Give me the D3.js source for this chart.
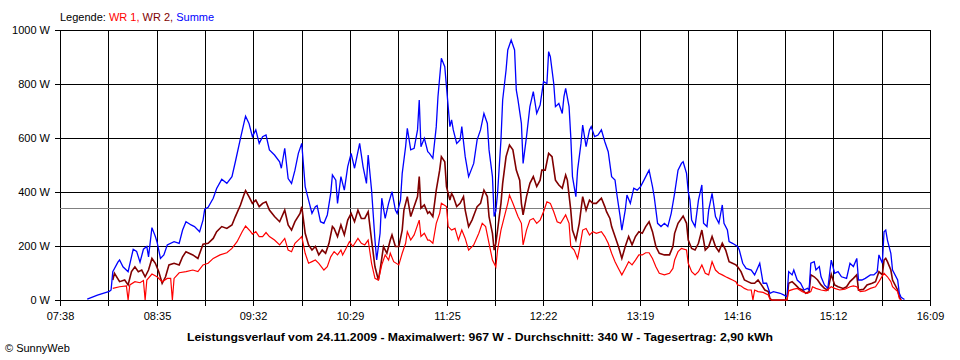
<!DOCTYPE html>
<html><head><meta charset="utf-8">
<script src="https://cdn.jsdelivr.net/npm/d3@7"></script>
<style>
body{margin:0;background:#fff}
svg{display:block}
text{font-family:"Liberation Sans",Arial,sans-serif;font-size:11px;fill:#000}
</style>
</head><body>
<svg id="chart" width="960" height="360"></svg>
<script>
// ---------- data ----------
const summeTimes = ["07:54","08:00","08:07","08:08","08:09","08:12","08:13","08:15","08:18","08:21","08:23","08:25","08:27","08:29","08:30","08:32","08:34","08:35","08:37","08:39","08:41","08:45","08:48","08:50","08:52","08:55","08:57","09:00","09:02","09:03","09:05","09:08","09:10","09:13","09:16","09:19","09:21","09:24","09:26","09:27","09:29","09:31","09:33","09:35","09:37","09:39","09:41","09:44","09:47","09:48","09:50","09:52","09:54","09:56","09:58","10:00","10:02","10:04","10:06","10:08","10:09","10:11","10:13","10:15","10:17","10:18","10:20","10:21","10:23","10:25","10:27","10:29","10:31","10:32","10:34","10:36","10:38","10:39","10:41","10:43","10:44","10:46","10:47","10:49","10:51","10:53","10:55","10:56","10:58","10:59","11:01","11:02","11:04","11:06","11:08","11:09","11:10","11:12","11:14","11:15","11:17","11:19","11:20","11:22","11:24","11:25","11:26","11:27","11:28","11:29","11:31","11:33","11:34","11:36","11:38","11:41","11:43","11:45","11:47","11:49","11:50","11:52","11:53","11:54","11:55","11:57","11:58","12:00","12:01","12:03","12:05","12:06","12:07","12:09","12:10","12:12","12:14","12:16","12:18","12:20","12:21","12:22","12:24","12:25","12:26","12:28","12:29","12:31","12:33","12:34","12:35","12:37","12:38","12:39","12:41","12:42","12:44","12:45","12:47","12:49","12:50","12:52","12:54","12:56","12:58","13:00","13:02","13:04","13:05","13:07","13:08","13:10","13:11","13:13","13:15","13:17","13:19","13:21","13:23","13:24","13:26","13:27","13:29","13:31","13:33","13:35","13:37","13:39","13:41","13:43","13:44","13:46","13:47","13:48","13:49","13:51","13:53","13:55","13:56","13:58","13:59","14:01","14:03","14:05","14:07","14:08","14:10","14:11","14:13","14:16","14:17","14:19","14:21","14:24","14:26","14:29","14:31","14:33","14:35","14:37","14:41","14:43","14:45","14:46","14:48","14:49","14:51","14:53","14:55","14:57","14:58","14:59","15:01","15:02","15:04","15:05","15:07","15:09","15:11","15:13","15:15","15:17","15:20","15:22","15:24","15:26","15:27","15:29","15:31","15:34","15:36","15:38","15:39","15:41","15:42","15:43","15:44","15:46","15:47","15:50","15:51","15:52","15:54"];
const summeValues = [3,18,32,37,105,140,148,123,105,188,180,140,188,198,160,268,235,215,154,167,204,216,210,259,290,278,272,253,296,336,343,377,413,447,432,457,512,599,654,681,654,605,630,580,605,611,556,537,512,488,562,450,432,481,543,580,420,370,321,346,350,290,284,315,395,463,444,358,457,407,494,543,488,519,580,494,432,537,407,222,148,247,377,302,358,401,333,321,370,469,568,636,556,562,630,741,568,599,549,543,525,642,753,895,864,790,716,642,667,630,580,593,642,531,457,506,593,630,691,654,556,457,309,330,395,593,741,852,926,963,926,778,741,654,506,605,716,772,691,722,765,809,802,920,901,802,716,728,691,753,784,716,605,457,383,481,580,648,568,630,642,605,611,630,586,549,457,444,395,309,259,333,389,358,414,407,420,444,469,481,420,383,284,272,284,272,321,395,481,506,512,469,401,370,296,272,370,426,284,272,333,395,309,284,352,284,259,216,210,198,185,136,117,111,93,136,62,62,25,31,25,19,12,105,93,111,74,62,37,43,37,136,142,111,124,86,56,43,148,99,105,86,80,136,124,154,74,74,80,93,93,105,167,136,253,259,222,173,111,74,25,10,2];

const wr2Times = ["08:09","08:10","08:13","08:16","08:18","08:20","08:22","08:24","08:26","08:28","08:30","08:32","08:34","08:36","08:38","08:40","08:42","08:45","08:48","08:50","08:52","08:56","08:59","09:02","09:05","09:08","09:10","09:13","09:16","09:19","09:21","09:24","09:26","09:27","09:29","09:31","09:33","09:35","09:37","09:39","09:41","09:44","09:47","09:50","09:52","09:54","09:56","09:59","10:00","10:02","10:04","10:06","10:08","10:10","10:12","10:14","10:16","10:18","10:19","10:21","10:23","10:25","10:27","10:29","10:31","10:33","10:35","10:37","10:39","10:41","10:43","10:45","10:46","10:48","10:50","10:52","10:53","10:55","10:57","10:59","11:00","11:02","11:04","11:06","11:08","11:09","11:10","11:12","11:14","11:15","11:17","11:19","11:21","11:22","11:24","11:25","11:27","11:28","11:29","11:31","11:33","11:35","11:36","11:38","11:40","11:43","11:45","11:47","11:49","11:50","11:52","11:53","11:54","11:55","11:57","11:58","12:00","12:02","12:04","12:06","12:08","12:09","12:10","12:12","12:14","12:16","12:18","12:20","12:21","12:23","12:25","12:27","12:29","12:31","12:33","12:35","12:36","12:38","12:39","12:41","12:43","12:45","12:47","12:49","12:51","12:53","12:56","12:58","12:59","13:01","13:02","13:04","13:06","13:08","13:10","13:12","13:14","13:16","13:18","13:20","13:22","13:24","13:26","13:28","13:30","13:33","13:36","13:38","13:39","13:41","13:44","13:46","13:47","13:49","13:51","13:53","13:55","13:57","13:59","14:01","14:03","14:05","14:07","14:09","14:11","14:13","14:15","14:16","14:18","14:20","14:22","14:24","14:26","14:28","14:30","14:32","14:34","14:35","14:36","14:45","14:46","14:48","14:50","14:52","14:54","14:56","14:58","14:59","15:01","15:03","15:05","15:07","15:09","15:11","15:13","15:15","15:18","15:20","15:22","15:24","15:26","15:27","15:30","15:32","15:35","15:37","15:39","15:41","15:42","15:43","15:44","15:46","15:47","15:50","15:51","15:52"];
const wr2Values = [74,99,68,74,56,105,123,105,111,86,111,154,136,105,62,86,130,136,130,160,179,167,154,207,210,228,253,272,265,278,309,352,389,405,383,358,370,346,358,364,333,309,290,333,278,259,290,321,346,247,204,185,198,167,185,173,210,272,265,235,278,241,296,321,290,333,302,302,327,222,123,74,111,198,173,222,241,198,198,259,333,383,309,346,383,457,340,352,321,327,309,407,481,531,512,420,370,395,383,346,358,383,333,272,296,346,358,407,383,309,247,185,210,259,358,432,531,574,556,481,444,358,315,383,432,457,420,444,481,481,543,531,444,426,414,463,444,333,259,222,284,383,333,370,358,358,377,346,327,302,272,235,198,154,198,235,204,235,253,247,272,290,253,198,173,167,167,198,247,284,311,284,222,191,185,210,259,185,198,235,198,179,210,185,142,136,130,123,105,74,68,62,62,74,56,37,31,6,0,0,62,68,56,43,37,25,31,93,86,74,56,43,37,95,56,49,43,49,68,80,93,37,40,56,62,68,105,93,148,154,142,111,74,37,12,0];

const wr1Times = ["08:09","08:13","08:17","08:18","08:19","08:22","08:25","08:27","08:28","08:29","08:32","08:35","08:38","08:41","08:43","08:44","08:45","08:48","08:52","08:56","08:59","09:02","09:05","09:08","09:12","09:16","09:19","09:22","09:25","09:27","09:30","09:31","09:33","09:35","09:37","09:39","09:41","09:44","09:47","09:50","09:52","09:54","09:56","09:59","10:00","10:02","10:04","10:06","10:08","10:10","10:13","10:15","10:17","10:19","10:21","10:23","10:24","10:26","10:28","10:30","10:33","10:35","10:37","10:39","10:41","10:43","10:45","10:47","10:49","10:51","10:52","10:54","10:57","10:59","11:01","11:02","11:04","11:06","11:09","11:10","11:12","11:14","11:15","11:17","11:19","11:21","11:22","11:25","11:26","11:28","11:30","11:32","11:34","11:36","11:38","11:41","11:44","11:46","11:48","11:50","11:52","11:54","11:55","11:57","11:59","12:01","12:02","12:04","12:07","12:09","12:10","12:12","12:14","12:16","12:18","12:20","12:22","12:24","12:26","12:28","12:30","12:32","12:35","12:37","12:38","12:40","12:42","12:43","12:45","12:47","12:49","12:51","12:53","12:56","12:58","13:00","13:02","13:04","13:06","13:08","13:10","13:12","13:14","13:16","13:18","13:20","13:22","13:24","13:26","13:28","13:30","13:33","13:36","13:38","13:39","13:41","13:43","13:46","13:47","13:49","13:51","13:53","13:55","13:57","13:59","14:01","14:03","14:05","14:07","14:09","14:11","14:13","14:15","14:16","14:18","14:20","14:22","14:24","14:25","14:26","14:28","14:31","14:34","14:35","14:36","14:45","14:46","14:49","14:51","14:54","14:57","14:59","15:00","15:02","15:05","15:08","15:11","15:13","15:16","15:19","15:22","15:24","15:26","15:28","15:31","15:34","15:37","15:39","15:42","15:44","15:46","15:47","15:50","15:51","15:52"];
const wr1Values = [43,49,52,0,56,68,64,72,0,74,96,86,68,80,80,0,80,101,105,111,105,130,136,154,167,175,191,216,253,274,253,244,253,235,235,250,235,222,204,228,185,179,210,228,235,173,136,142,148,136,111,123,160,179,167,185,167,191,216,198,228,210,204,222,136,80,74,130,167,148,173,142,130,173,210,253,222,241,296,235,247,222,222,210,284,321,358,346,272,259,265,222,259,228,185,204,247,284,272,210,148,123,185,259,309,358,389,358,309,284,204,259,296,302,284,296,327,364,358,327,290,284,315,284,198,185,154,185,259,265,241,253,247,253,235,210,173,142,117,93,117,142,130,148,167,167,175,175,154,123,99,93,99,117,148,179,191,185,136,105,93,105,130,99,93,142,111,99,93,86,80,74,68,56,52,43,37,37,0,37,31,28,19,3,0,0,34,40,43,31,25,31,49,43,37,34,49,43,37,40,49,52,49,31,34,43,49,68,99,86,68,49,31,6,0];

const seriesNames = ["WR 1", "WR 2", "Summe"];
const xTickLabels = ["07:38","08:35","09:32","10:29","11:25","12:22","13:19","14:16","15:12","16:09"];
const xStart = "07:38", xEnd = "16:09";
const yTicks = [0, 200, 400, 600, 800, 1000];
const averageValue = 340;
const legendPrefix = "Legende: ";
const titleText = "Leistungsverlauf vom 24.11.2009 - Maximalwert: 967 W - Durchschnitt: 340 W - Tagesertrag: 2,90 kWh";
const footerText = "\u00A9 SunnyWeb";

// ---------- drawing ----------
const colors = {"WR 1": "#ff0000", "WR 2": "#800000", "Summe": "#0000ff"};
const parse = d3.timeParse("%H:%M");
const L = 60, R = 930, T = 30, B = 300;
const svg = d3.select("#chart");

const x = d3.scaleTime().domain([parse(xStart), parse(xEnd)]).range([L, R]);
const y = d3.scaleLinear().domain([0, 1000]).range([B, T]);

const t0 = parse(xStart).getTime(), t1 = parse(xEnd).getTime();
const nDiv = (xTickLabels.length - 1) * 2;
const gridTimes = d3.range(nDiv + 1).map(k => new Date(t0 + k * (t1 - t0) / nDiv));

// vertical grid
svg.append("g").selectAll("line").data(gridTimes).join("line")
  .attr("x1", d => Math.round(x(d)) + 0.5).attr("x2", d => Math.round(x(d)) + 0.5)
  .attr("y1", T).attr("y2", B)
  .attr("stroke", "#000").attr("stroke-width", 1).attr("shape-rendering", "crispEdges");
// horizontal grid
svg.append("g").selectAll("line").data(yTicks).join("line")
  .attr("x1", L).attr("x2", R + 1)
  .attr("y1", d => Math.round(y(d)) + 0.5).attr("y2", d => Math.round(y(d)) + 0.5)
  .attr("stroke", "#000").attr("stroke-width", 1).attr("shape-rendering", "crispEdges");
// average line
svg.append("line")
  .attr("x1", L).attr("x2", R)
  .attr("y1", Math.round(y(averageValue)) + 0.5).attr("y2", Math.round(y(averageValue)) + 0.5)
  .attr("stroke", "#808080").attr("stroke-width", 1).attr("shape-rendering", "crispEdges");

// axes
const xAxis = d3.axisBottom(x).tickValues(gridTimes).tickSize(5).tickPadding(7)
  .tickFormat((d, i) => i % 2 ? "" : xTickLabels[i / 2]);
const gx = svg.append("g").attr("transform", `translate(0.5,${B + 0.5})`).call(xAxis);
gx.select(".domain").remove();
gx.selectAll("line").attr("stroke", "#000").attr("shape-rendering", "crispEdges");
gx.selectAll(".tick").attr("transform", d => `translate(${Math.round(x(d))},0)`);
gx.selectAll("text").style("font-family", '"Liberation Sans",Arial,sans-serif').style("font-size", "11px").attr("fill", "#000");

const yAxis = d3.axisLeft(y).tickValues(yTicks).tickSize(5).tickPadding(5).tickFormat(d => d + " W");
const gy = svg.append("g").attr("transform", `translate(${L},0.5)`).call(yAxis);
gy.select(".domain").remove();
gy.selectAll(".tick").attr("transform", d => `translate(0,${Math.round(y(d))})`);
gy.selectAll("line").attr("stroke", "#000").attr("shape-rendering", "crispEdges");
gy.selectAll("text").style("font-family", '"Liberation Sans",Arial,sans-serif').style("font-size", "11px").attr("fill", "#000");

// series
const series = {
  "WR 1": wr1Times.map((t, i) => ({t: parse(t), v: wr1Values[i]})),
  "WR 2": wr2Times.map((t, i) => ({t: parse(t), v: wr2Values[i]})),
  "Summe": summeTimes.map((t, i) => ({t: parse(t), v: summeValues[i]}))
};
const line = d3.line().x(d => x(d.t)).y(d => y(d.v));
const drawOrder = ["WR 2", "Summe", "WR 1"];
const widths = {"WR 1": 1.2, "WR 2": 1.6, "Summe": 1.3};
drawOrder.forEach(name => {
  svg.append("path").datum(series[name])
    .attr("d", line).attr("fill", "none")
    .attr("stroke", colors[name]).attr("stroke-width", widths[name])
    .attr("stroke-linejoin", "miter");
});

// legend
const leg = svg.append("text").attr("x", L).attr("y", 21);
leg.append("tspan").text(legendPrefix).attr("fill", "#000");
seriesNames.forEach((n, i) => {
  leg.append("tspan").text(n + (i < seriesNames.length - 1 ? ", " : "")).attr("fill", colors[n]);
});

// title
svg.append("text").attr("x", 480).attr("y", 341).attr("text-anchor", "middle")
  .style("font-weight", "bold").style("font-size", "11px")
  .attr("textLength", 586).attr("lengthAdjust", "spacingAndGlyphs")
  .text(titleText);

// footer
svg.append("text").attr("x", 5).attr("y", 352).text(footerText);
</script>
</body></html>
